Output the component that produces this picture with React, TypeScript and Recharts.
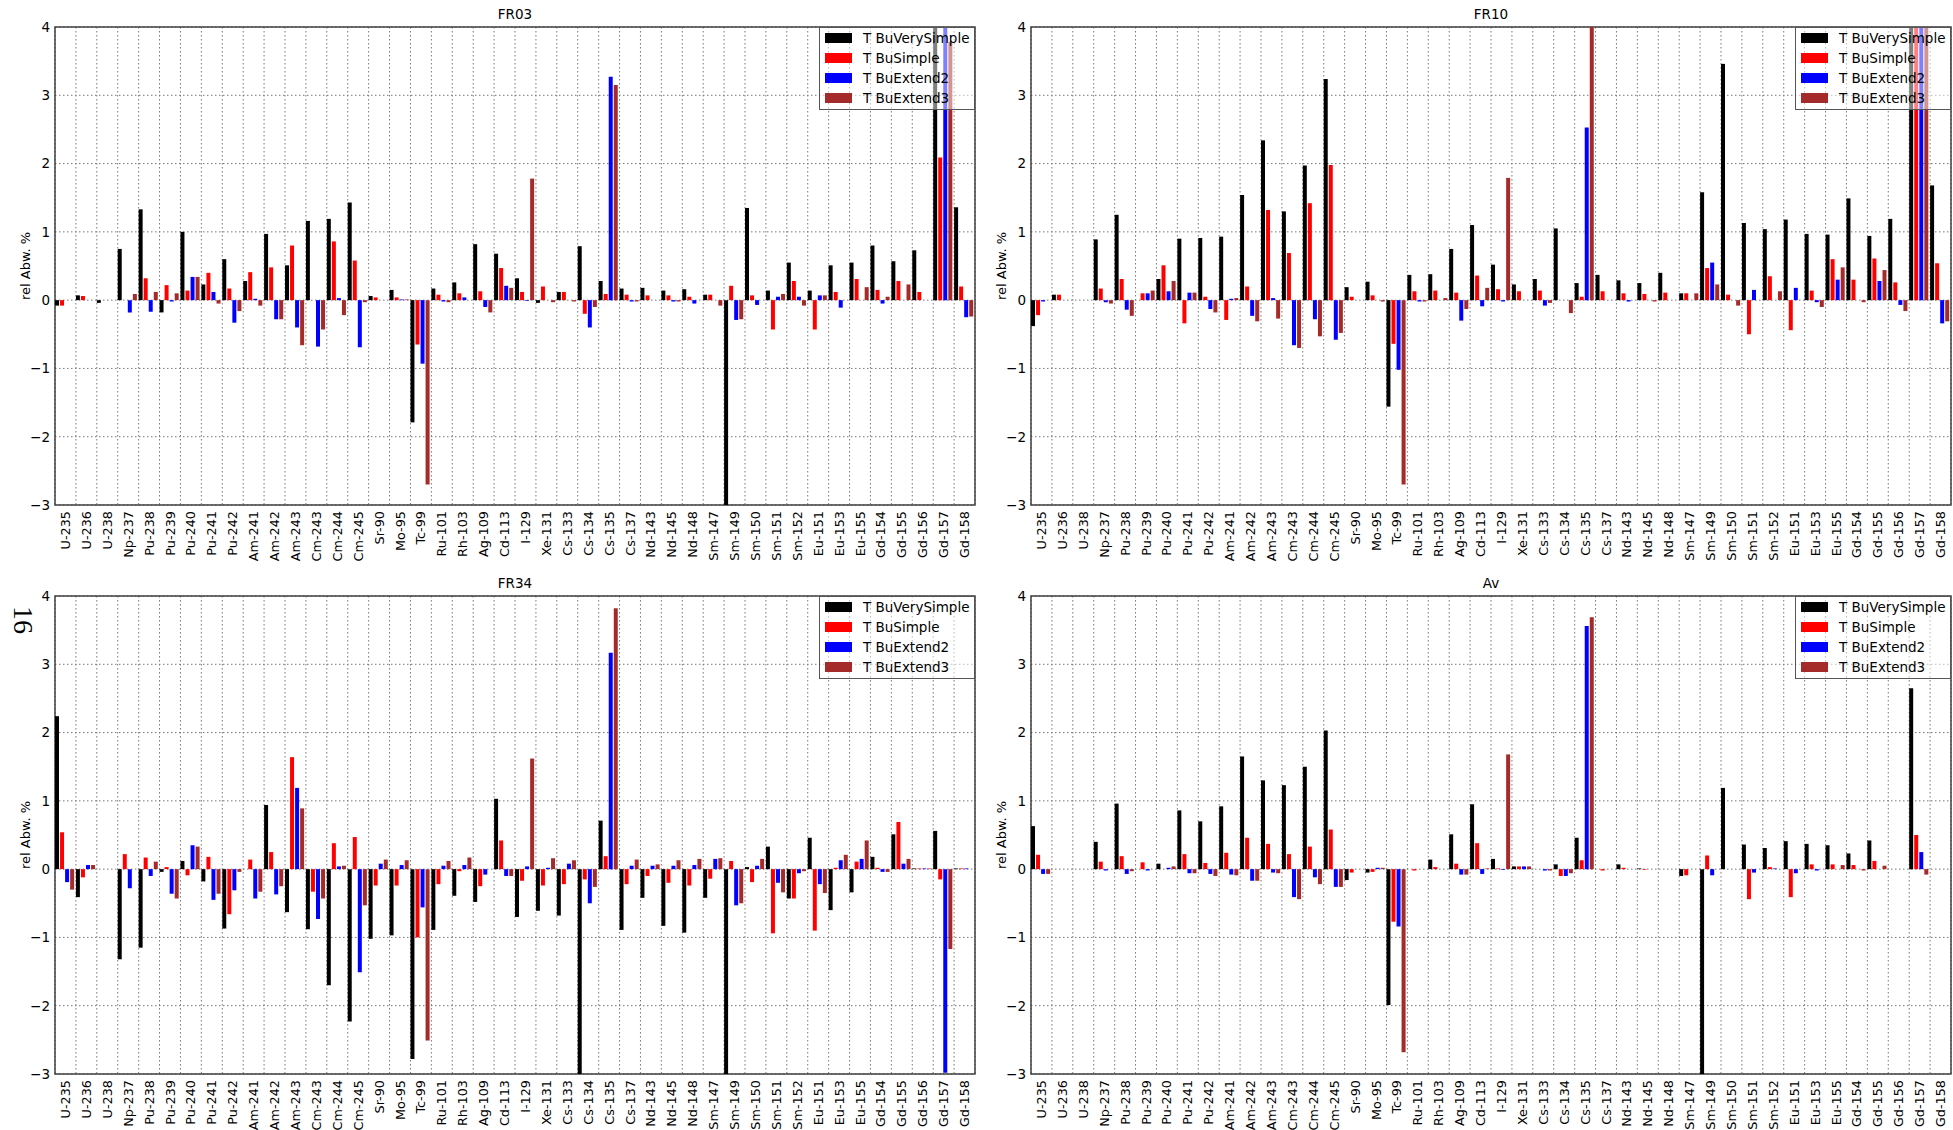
import { BarChart, Bar, XAxis, YAxis, CartesianGrid, ReferenceArea } from "recharts";

const ISOTOPES = [
  "U-235", "U-236", "U-238", "Np-237", "Pu-238", "Pu-239", "Pu-240", "Pu-241", "Pu-242",
  "Am-241", "Am-242", "Am-243", "Cm-243", "Cm-244", "Cm-245", "Sr-90", "Mo-95", "Tc-99",
  "Ru-101", "Rh-103", "Ag-109", "Cd-113", "I-129", "Xe-131", "Cs-133", "Cs-134", "Cs-135",
  "Cs-137", "Nd-143", "Nd-145", "Nd-148", "Sm-147", "Sm-149", "Sm-150", "Sm-151", "Sm-152",
  "Eu-151", "Eu-153", "Eu-155", "Gd-154", "Gd-155", "Gd-156", "Gd-157", "Gd-158",
];

const Y_TICKS = [-3, -2, -1, 0, 1, 2, 3, 4];

const SERIES = [
  { key: "verySimple", name: "T BuVerySimple", color: "#000000" },
  { key: "simple", name: "T BuSimple", color: "#ff0000" },
  { key: "extend2", name: "T BuExtend2", color: "#0000ff" },
  { key: "extend3", name: "T BuExtend3", color: "#a52a2a" },
];

// FR03
const FR03_VERY_SIMPLE = [-0.08, 0.07, -0.04, 0.75, 1.33, -0.18, 1.0, 0.23, 0.6, 0.28, 0.97, 0.51, 1.16, 1.19, 1.43, 0.06, 0.15, -1.79, 0.17, 0.26, 0.82, 0.68, 0.32, -0.04, 0.12, 0.79, 0.28, 0.17, 0.18, 0.14, 0.16, 0.08, -3.6, 1.35, 0.14, 0.55, 0.14, 0.51, 0.55, 0.8, 0.57, 0.73, 5.2, 1.36];
const FR03_SIMPLE = [-0.08, 0.06, 0, 0, 0.32, 0.22, 0.14, 0.4, 0.17, 0.41, 0.48, 0.8, 0, 0.86, 0.58, 0.04, 0.04, -0.65, 0.08, 0.1, 0.13, 0.47, 0.12, 0.2, 0.12, -0.2, 0.09, 0.08, 0.07, 0.07, 0.05, 0.08, 0.21, 0.07, -0.43, 0.28, -0.43, 0.12, 0.31, 0.15, 0.28, 0.12, 2.09, 0.2];
const FR03_EXTEND2 = [0, 0, 0, -0.18, -0.17, -0.02, 0.34, 0.12, -0.33, 0.02, -0.28, -0.4, -0.68, 0.03, -0.69, 0, 0.01, -0.93, -0.02, 0.04, -0.1, 0.21, -0.01, 0, 0, -0.4, 3.27, -0.02, 0, -0.02, -0.05, 0, -0.29, -0.07, 0.05, 0.05, 0.07, -0.11, 0, -0.05, 0, 0, 5.0, -0.25];
const FR03_EXTEND3 = [0, 0, 0, 0.09, 0.12, 0.1, 0.34, -0.05, -0.16, -0.08, -0.28, -0.66, -0.43, -0.22, -0.03, 0, 0.01, -2.7, -0.03, 0, -0.18, 0.18, 1.78, -0.03, -0.02, -0.1, 3.15, -0.02, 0, -0.02, 0, -0.08, -0.28, 0, 0.09, -0.08, 0.07, 0, 0.19, 0.05, 0.23, 0, 3.78, -0.24];

// FR10
const FR10_VERY_SIMPLE = [-0.38, 0.08, 0, 0.89, 1.25, 0, 0.31, 0.9, 0.91, 0.93, 1.54, 2.34, 1.3, 1.97, 3.24, 0.19, 0.27, -1.56, 0.37, 0.38, 0.75, 1.1, 0.52, 0.23, 0.31, 1.05, 0.25, 0.37, 0.29, 0.25, 0.4, 0.1, 1.58, 3.46, 1.13, 1.04, 1.18, 0.97, 0.96, 1.49, 0.94, 1.19, 5.4, 1.68];
const FR10_SIMPLE = [-0.22, 0.08, 0, 0.17, 0.31, 0.1, 0.51, -0.34, 0.05, -0.29, 0.2, 1.32, 0.69, 1.42, 1.98, 0.05, 0.07, -0.64, 0.13, 0.14, 0.11, 0.36, 0.16, 0.13, 0.14, 0, 0.05, 0.13, 0.1, 0.09, 0.11, 0.1, 0.47, 0.08, -0.5, 0.35, -0.44, 0.14, 0.6, 0.3, 0.61, 0.26, 4.8, 0.54];
const FR10_EXTEND2 = [-0.02, 0, 0, -0.03, -0.14, 0.1, 0.13, 0.11, -0.13, 0.02, -0.23, 0.03, -0.66, -0.28, -0.58, 0, 0, -1.02, -0.02, 0, -0.3, -0.09, -0.02, 0, -0.08, 0, 2.53, 0, -0.02, 0, 0, 0, 0.55, 0, 0.15, 0, 0.18, -0.03, 0.3, 0, 0.28, -0.07, 5.1, -0.34];
const FR10_EXTEND3 = [0, 0, 0, -0.05, -0.23, 0.14, 0.28, 0.11, -0.18, 0.03, -0.31, -0.27, -0.7, -0.53, -0.48, 0, -0.02, -2.7, -0.02, 0.03, -0.13, 0.18, 1.79, 0, -0.04, -0.19, 4.5, 0, 0, -0.02, 0, 0.1, 0.23, -0.08, 0, 0.13, 0, -0.1, 0.48, -0.03, 0.44, -0.16, 4.9, -0.31];

// FR34
const FR34_VERY_SIMPLE = [2.24, -0.41, 0, -1.32, -1.15, -0.04, 0.12, -0.18, -0.87, 0, 0.94, -0.63, -0.88, -1.7, -2.23, -1.02, -0.97, -2.78, -0.89, -0.39, -0.48, 1.03, -0.7, -0.61, -0.68, -3.3, 0.71, -0.89, -0.42, -0.83, -0.93, -0.42, -3.4, 0.03, 0.33, -0.43, 0.46, -0.6, -0.34, 0.18, 0.51, 0.01, 0.56, 0.01];
const FR34_SIMPLE = [0.54, -0.12, 0, 0.22, 0.17, 0.03, -0.09, 0.18, -0.66, 0.14, 0.25, 1.64, -0.33, 0.38, 0.47, -0.24, -0.24, -1.0, -0.22, -0.03, -0.25, 0.42, -0.17, -0.24, -0.22, -0.15, 0.19, -0.22, -0.1, -0.2, -0.24, -0.14, 0.12, -0.19, -0.94, -0.43, -0.9, 0.02, 0.11, 0.02, 0.69, 0.01, -0.15, 0.01];
const FR34_EXTEND2 = [-0.19, 0.06, 0, -0.28, -0.1, -0.36, 0.35, -0.45, -0.31, -0.43, -0.37, 1.19, -0.73, 0.04, -1.51, 0.08, 0.06, -0.56, 0.05, 0.06, -0.08, -0.1, 0.04, 0.02, 0.08, -0.5, 3.17, 0.05, 0.05, 0.05, 0.06, 0.15, -0.53, 0.05, -0.2, -0.06, -0.22, 0.13, 0.15, -0.04, 0.08, 0.01, -2.98, 0.01];
const FR34_EXTEND3 = [-0.3, 0.06, 0, 0, 0.11, -0.43, 0.33, -0.36, -0.04, -0.33, -0.25, 0.89, -0.43, 0.05, -0.53, 0.14, 0.13, -2.51, 0.12, 0.17, 0, -0.1, 1.62, 0.16, 0.13, -0.26, 3.82, 0.14, 0.07, 0.13, 0.15, 0.16, -0.5, 0.15, -0.34, -0.03, -0.35, 0.21, 0.42, -0.04, 0.15, 0.01, -1.17, 0];

// Av
const AV_VERY_SIMPLE = [0.63, 0, 0, 0.4, 0.96, 0, 0.08, 0.86, 0.7, 0.92, 1.65, 1.3, 1.23, 1.5, 2.03, -0.16, -0.05, -1.99, 0, 0.14, 0.51, 0.95, 0.15, 0.04, 0, 0.07, 0.46, 0, 0.07, 0.01, 0, -0.1, -3.3, 1.19, 0.36, 0.31, 0.41, 0.37, 0.35, 0.23, 0.42, 0, 2.65, 0];
const AV_SIMPLE = [0.21, 0, 0, 0.11, 0.19, 0.1, 0, 0.22, 0.09, 0.24, 0.46, 0.37, 0.22, 0.33, 0.58, -0.05, -0.04, -0.77, -0.02, 0.03, 0.08, 0.38, 0.01, 0.04, 0, -0.1, 0.13, -0.02, 0.02, -0.01, 0, -0.09, 0.2, 0, -0.44, 0.03, -0.41, 0.07, 0.07, 0.06, 0.12, 0, 0.5, 0];
const AV_EXTEND2 = [-0.07, 0, 0, -0.02, -0.07, -0.02, 0.02, -0.06, -0.07, -0.08, -0.17, -0.05, -0.41, -0.12, -0.26, 0, 0.02, -0.84, 0, 0, -0.08, -0.07, -0.01, 0.04, -0.02, -0.1, 3.56, 0, 0, 0, 0, 0, -0.09, 0, -0.05, 0.01, -0.06, -0.02, 0, 0, 0, 0, 0.25, 0];
const AV_EXTEND3 = [-0.07, 0, 0, 0, -0.03, 0, 0.04, -0.06, -0.1, -0.09, -0.17, -0.06, -0.44, -0.22, -0.26, 0, 0.02, -2.68, 0, 0, -0.08, 0.01, 1.68, 0.04, -0.02, -0.06, 3.69, 0, 0, 0, 0, 0, 0, 0, 0, 0, 0, 0, 0.06, -0.02, 0.05, 0, -0.08, 0];

const X_TICKS = ISOTOPES.map((_, i) => i);

// bars of one isotope sit in [i, i+0.95], so the group is centred at i + 0.475
function buildRows(vs: number[], s: number[], e2: number[], e3: number[]) {
  return ISOTOPES.map((name, i) => ({
    name,
    pos: i + 0.475,
    verySimple: vs[i],
    simple: s[i],
    extend2: e2[i],
    extend3: e3[i],
  }));
}

const PANELS = [
  { title: "FR03", left: 55, top: 27, rows: buildRows(FR03_VERY_SIMPLE, FR03_SIMPLE, FR03_EXTEND2, FR03_EXTEND3) },
  { title: "FR10", left: 1031, top: 27, rows: buildRows(FR10_VERY_SIMPLE, FR10_SIMPLE, FR10_EXTEND2, FR10_EXTEND3) },
  { title: "FR34", left: 55, top: 596, rows: buildRows(FR34_VERY_SIMPLE, FR34_SIMPLE, FR34_EXTEND2, FR34_EXTEND3) },
  { title: "Av", left: 1031, top: 596, rows: buildRows(AV_VERY_SIMPLE, AV_SIMPLE, AV_EXTEND2, AV_EXTEND3) },
];

const PLOT_W = 920;
const PLOT_H = 478;
const AXIS_W = 55;
const AXIS_H = 70;
const FONT = 13.5;

const fmtY = (v: number) => (v < 0 ? `\u2212${-v}` : `${v}`);

function LegendBox({ left, top }: { left: number; top: number }) {
  return (
    <div
      style={{
        position: "absolute",
        left,
        top,
        width: 156,
        height: 83,
        boxSizing: "border-box",
        border: "1px solid #555",
        background: "rgba(255,255,255,0.5)",
      }}
    >
      {SERIES.map((s, i) => (
        <div
          key={s.key}
          style={{ position: "absolute", left: 5, top: i * 20, height: 20, display: "flex", alignItems: "center" }}
        >
          <div style={{ width: 27, height: 10, background: s.color }} />
          <span style={{ marginLeft: 11, fontSize: FONT, whiteSpace: "nowrap" }}>{s.name}</span>
        </div>
      ))}
    </div>
  );
}

function Panel({ title, left, top, rows }: { title: string; left: number; top: number; rows: any[] }) {
  const band = PLOT_W / ISOTOPES.length;
  const renderTick = (props: any) => {
    const { x, y, payload } = props;
    const lx = x + band * 0.5;
    return (
      <text
        x={lx}
        y={y}
        transform={`rotate(-90 ${lx} ${y})`}
        textAnchor="end"
        dominantBaseline="central"
        fontSize={12.8}
        fill="#000"
      >
        {ISOTOPES[payload.value]}
      </text>
    );
  };

  return (
    <>
      <div style={{ position: "absolute", left: left - AXIS_W, top: top - 27 }}>
        <BarChart
          width={AXIS_W + PLOT_W + 2}
          height={27 + PLOT_H + AXIS_H}
          data={rows}
          margin={{ top: 27, right: 2, left: 0, bottom: 0 }}
          barCategoryGap="2.5%"
          barGap="5%"
        >
          <CartesianGrid stroke="#777" strokeDasharray="1.5 2.5" />
          <XAxis
            type="number"
            dataKey="pos"
            domain={[0, 44]}
            ticks={X_TICKS}
            interval={0}
            height={AXIS_H}
            allowDataOverflow
            axisLine={false}
            tickLine={false}
            tickSize={0}
            tickMargin={6}
            tick={renderTick}
          />
          <YAxis
            type="number"
            domain={[-3, 4]}
            ticks={Y_TICKS}
            width={AXIS_W}
            allowDataOverflow
            axisLine={false}
            tickLine={false}
            tickSize={0}
            tickMargin={5}
            tickFormatter={fmtY}
            tick={{ fontSize: FONT, fill: "#000" }}
          />
          {SERIES.map((s) => (
            <Bar key={s.key} dataKey={s.key} name={s.name} fill={s.color} isAnimationActive={false} />
          ))}
          <ReferenceArea x1={0} x2={44} y1={-3} y2={4} fill="none" stroke="#404040" strokeWidth={1.5} ifOverflow="visible" />
        </BarChart>
      </div>
      <div
        style={{
          position: "absolute",
          left: left,
          width: PLOT_W,
          top: top - 21,
          textAlign: "center",
          fontSize: FONT,
        }}
      >
        {title}
      </div>
      <div style={{ position: "absolute", left: left - 30, top: top + PLOT_H / 2, width: 0, height: 0 }}>
        <div
          style={{
            position: "absolute",
            fontSize: 13,
            whiteSpace: "nowrap",
            transform: "translate(-50%, -50%) rotate(-90deg)",
          }}
        >
          rel Abw. %
        </div>
      </div>
      <LegendBox left={left + PLOT_W - 156} top={top} />
    </>
  );
}

export default function App() {
  return (
    <div
      style={{
        position: "absolute",
        left: 0,
        top: 0,
        width: 1953,
        height: 1130,
        overflow: "hidden",
        background: "#fff",
        fontFamily: "'DejaVu Sans', sans-serif",
      }}
    >
      {PANELS.map((p) => (
        <Panel key={p.title} title={p.title} left={p.left} top={p.top} rows={p.rows} />
      ))}
      <div style={{ position: "absolute", left: 23, top: 620, width: 0, height: 0 }}>
        <div
          style={{
            position: "absolute",
            fontFamily: "'Liberation Serif', serif",
            fontSize: 28,
            whiteSpace: "nowrap",
            transform: "translate(-50%, -50%) rotate(90deg)",
          }}
        >
          16
        </div>
      </div>
    </div>
  );
}
